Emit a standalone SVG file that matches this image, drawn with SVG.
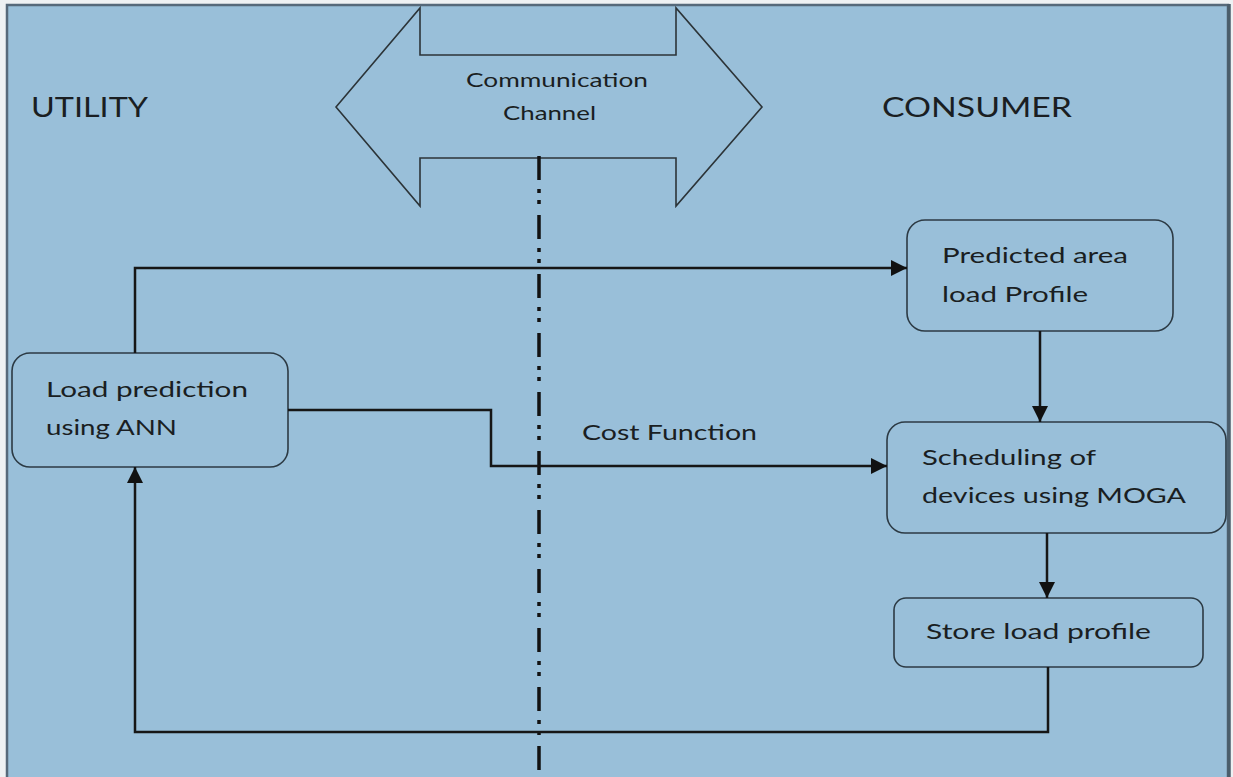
<svg xmlns="http://www.w3.org/2000/svg" width="1233" height="777" viewBox="0 0 1233 777">
<defs>
<style>
.t{font-family:Lato,"Open Sans","Liberation Sans",sans-serif;fill:#1a1e22;}
.n{font-size:22px;}
.box{fill:#99bfd9;stroke:#2c3a44;stroke-width:1.6;}
.c{fill:none;stroke:#161616;stroke-width:2.5;}
</style>
<marker id="ah" viewBox="0 0 10 10" refX="10" refY="5" markerWidth="22" markerHeight="16" markerUnits="userSpaceOnUse" orient="auto">
<path d="M0,0 L10,5 L0,10 z" fill="#111"/>
</marker>
</defs>
<rect x="0" y="0" width="1233" height="777" fill="#eef1f3"/>
<rect x="7" y="5" width="1221" height="790" fill="#99bfd9" stroke="#56697a" stroke-width="2.5"/>
<line x1="1229" y1="4" x2="1229" y2="777" stroke="#4a5d6b" stroke-width="3.5"/>

<g id="utility-label"><text class="t" x="31" y="117" font-size="27" textLength="117" lengthAdjust="spacingAndGlyphs">UTILITY</text></g>
<g id="consumer-label"><text class="t" x="882" y="117" font-size="27" textLength="190" lengthAdjust="spacingAndGlyphs">CONSUMER</text></g>

<g id="channel">
<polygon points="336,107 420,8 420,55 676,55 676,8 762,107 676,206 676,158 420,158 420,206" fill="#99bfd9" stroke="#2c3438" stroke-width="1.6" stroke-linejoin="miter"/>
<text class="t" x="466" y="87" font-size="20" textLength="182" lengthAdjust="spacingAndGlyphs">Communication</text>
<text class="t" x="503" y="120" font-size="20" textLength="93" lengthAdjust="spacingAndGlyphs">Channel</text>
</g>

<g id="divider"><line x1="539" y1="156" x2="539" y2="777" stroke="#111" stroke-width="3.5" stroke-dasharray="24 9 4 7 4 11"/></g>

<g id="n-load">
<rect class="box" x="12" y="353" width="276" height="114" rx="18"/>
<text class="t n" x="46" y="397" textLength="202" lengthAdjust="spacingAndGlyphs">Load prediction</text>
<text class="t n" x="46" y="435" textLength="131" lengthAdjust="spacingAndGlyphs">using ANN</text>
</g>
<g id="n-predicted">
<rect class="box" x="907" y="220" width="266" height="111" rx="18"/>
<text class="t n" x="942" y="263" textLength="186" lengthAdjust="spacingAndGlyphs">Predicted area</text>
<text class="t n" x="942" y="302" textLength="146" lengthAdjust="spacingAndGlyphs">load Profile</text>
</g>
<g id="n-sched">
<rect class="box" x="887" y="422" width="339" height="111" rx="18"/>
<text class="t n" x="922" y="465" textLength="174" lengthAdjust="spacingAndGlyphs">Scheduling of</text>
<text class="t n" x="922" y="503" textLength="264" lengthAdjust="spacingAndGlyphs">devices using  MOGA</text>
</g>
<g id="n-store">
<rect class="box" x="894" y="598" width="309" height="69" rx="12"/>
<text class="t n" x="926" y="639" textLength="225" lengthAdjust="spacingAndGlyphs">Store load profile</text>
</g>

<g id="connectors">
<polyline class="c" points="135,353 135,268 907,268" marker-end="url(#ah)"/>
<polyline class="c" points="288,410 491,410 491,466 887,466" marker-end="url(#ah)"/>
<text class="t" x="582" y="440" font-size="21" textLength="175" lengthAdjust="spacingAndGlyphs">Cost Function</text>
<line class="c" x1="1040" y1="331" x2="1040" y2="422" marker-end="url(#ah)"/>
<line class="c" x1="1047" y1="533" x2="1047" y2="598" marker-end="url(#ah)"/>
<polyline class="c" points="1048,667 1048,732 135,732 135,467" marker-end="url(#ah)"/>
</g>
</svg>
